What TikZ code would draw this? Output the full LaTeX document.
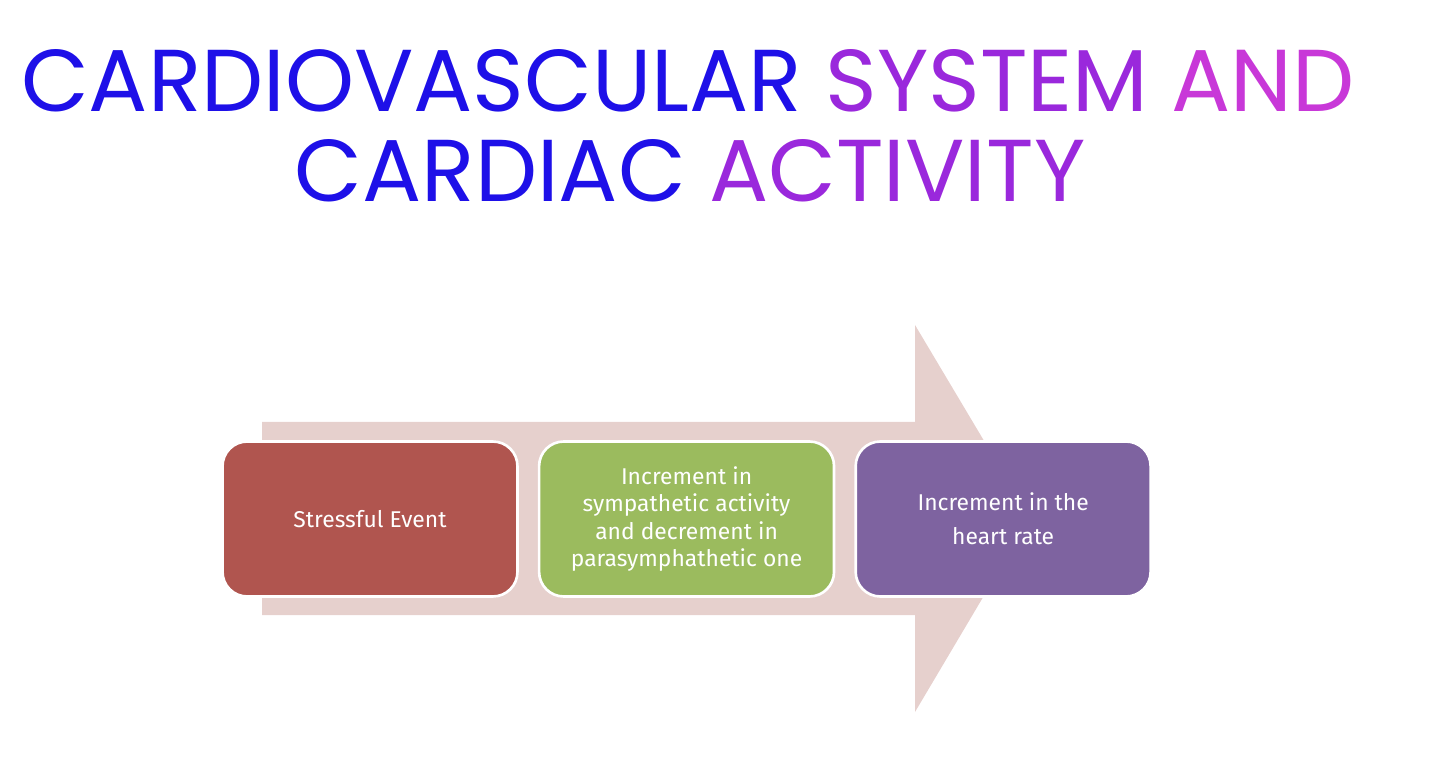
\documentclass[tikz,border=0pt]{standalone}
\usepackage{fontspec}
\setmainfont{Poppins}
\newfontfamily\boxfont{Fira Sans}
\usetikzlibrary{positioning}
\definecolor{titleA}{HTML}{1E10E8}
\definecolor{titleB}{HTML}{5A18E0}
\definecolor{titleC}{HTML}{9A28DC}
\definecolor{titleD}{HTML}{C838D8}
\definecolor{arrowpink}{HTML}{E6D0CD}
\definecolor{stepred}{HTML}{B0554F}
\definecolor{stepgreen}{HTML}{9BBB5E}
\definecolor{steppurple}{HTML}{7E63A0}
\tikzset{
  stepbox/.style={draw=white, line width=1.5pt, rounded corners=14pt,
    minimum width=5.9cm, minimum height=3.1cm, align=center,
    text=white, font=\boxfont\fontsize{13}{15.5}\selectfont},
  titleline/.style={font=\fontsize{50}{56}\selectfont, inner sep=0pt, anchor=base}
}
\begin{document}
\begin{tikzpicture}[x=0.02cm,y=-0.02cm]
\useasboundingbox (0,0) rectangle (1440,766);
% title
\node[titleline] (title1) at (688,112) {\color{titleA}CARDIOVASCULAR \color{titleC}SYSTEM \color{titleD}AND};
\node[titleline] (title2) at (690,202) {\color{titleA}CARDIAC \color{titleC}ACTIVITY};
% big arrow
\fill[arrowpink] (262,422) -- (915,422) -- (915,325) -- (1030,518) -- (915,712)
  -- (915,615) -- (262,615) -- cycle;
% steps
\node[stepbox, fill=stepred] (stress) at (370,519) {Stressful Event};
\node[stepbox, fill=stepgreen, right=0.38cm of stress] (symp)
  {Increment in\\sympathetic activity\\and decrement in\\parasymphathetic one};
\node[stepbox, fill=steppurple, right=0.38cm of symp] (heart)
  {Increment in the\\[4pt]heart rate};
\end{tikzpicture}
\end{document}
